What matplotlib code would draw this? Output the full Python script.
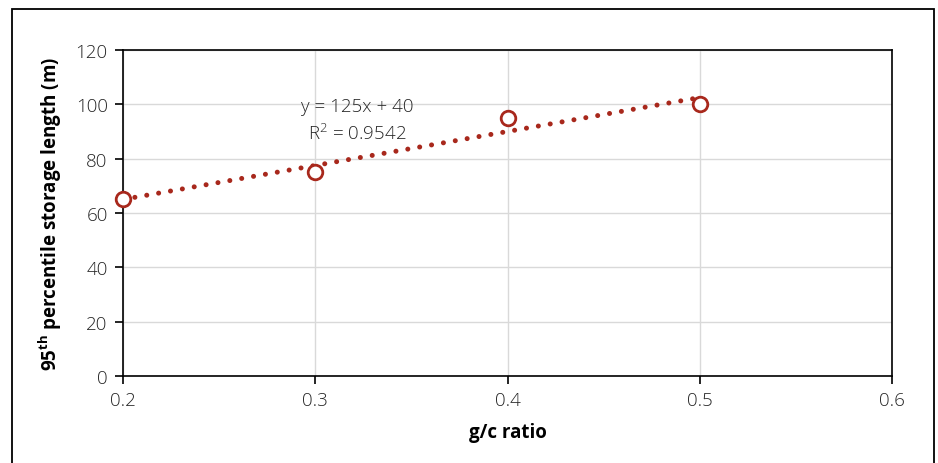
import matplotlib
matplotlib.use("Agg")
import matplotlib.pyplot as plt
from matplotlib.patches import Rectangle
import numpy as np

gc_ratio = [0.2, 0.3, 0.4, 0.5]
storage_length = [65, 75, 95, 100]
x_ticks = [0.2, 0.3, 0.4, 0.5, 0.6]
y_ticks = [0, 20, 40, 60, 80, 100, 120]

plt.rcParams['font.family'] = ['Open Sans', 'DejaVu Sans']
plt.rcParams['mathtext.fontset'] = 'custom'
plt.rcParams['mathtext.rm'] = 'Open Sans:light'
plt.rcParams['mathtext.bf'] = 'Open Sans:bold'

fig = plt.figure(figsize=(9.38, 4.64), dpi=100)
ax = fig.add_axes([123/938, 1-377/464, (892-123)/938, (377-51)/464])

# frame around figure
fig.patches.append(Rectangle((12/938, -0.05), 922/938, 1.05 - 10/464,
                             transform=fig.transFigure, fill=False,
                             edgecolor='black', linewidth=1.3))

red = '#A8281C'
slope, intercept = np.polyfit(gc_ratio, storage_length, 1)
xs = np.array([min(gc_ratio), max(gc_ratio)])
ax.plot(xs, slope*xs + intercept, color=red, linewidth=3.6,
        linestyle=(0, (0.01, 2.4)), dash_capstyle='round', zorder=3)
ax.plot(gc_ratio, storage_length, linestyle='none', marker='o', markersize=10.5,
        markerfacecolor='white', markeredgecolor=red, markeredgewidth=2.0,
        zorder=4, clip_on=False)

yfit = slope*np.array(gc_ratio) + intercept
ss_res = np.sum((np.array(storage_length) - yfit)**2)
ss_tot = np.sum((np.array(storage_length) - np.mean(storage_length))**2)
r2 = 1 - ss_res/ss_tot

txt_color = '#262626'
ax.text(0.322, 99.5, f"y = {slope:.0f}x + {intercept:.0f}", ha='center', va='center',
        fontsize=13.5, color=txt_color, fontweight='light')
ax.text(0.322, 89.5, f"R$^{{\\mathrm{{2}}}}$ = {r2:.4f}", ha='center', va='center',
        fontsize=13.5, color=txt_color, fontweight='light')

ax.set_xlim(0.2, 0.6)
ax.set_ylim(0, 120)
ax.set_xticks(x_ticks)
ax.set_yticks(y_ticks)
ax.set_xticklabels([f"{v:g}" for v in x_ticks])
ax.set_yticklabels([f"{v:g}" for v in y_ticks])
ax.grid(True, color='#D9D9D9', linewidth=1)
ax.set_axisbelow(True)
for s in ax.spines.values():
    s.set_color('black')
    s.set_linewidth(1.2)
ax.tick_params(direction='out', length=6, width=1.2, colors='black',
               labelcolor=txt_color, labelsize=13.5, pad=5)
for lab in ax.get_xticklabels() + ax.get_yticklabels():
    lab.set_fontweight('light')

ax.set_xlabel("g/c ratio", fontsize=13.5, fontweight='bold', color='black', labelpad=9)
ax.set_ylabel("95$^{\\mathbf{th}}$ percentile storage length (m)", fontsize=13.5,
              fontweight='bold', color='black', labelpad=8)

fig.savefig("out.png", dpi=100)
